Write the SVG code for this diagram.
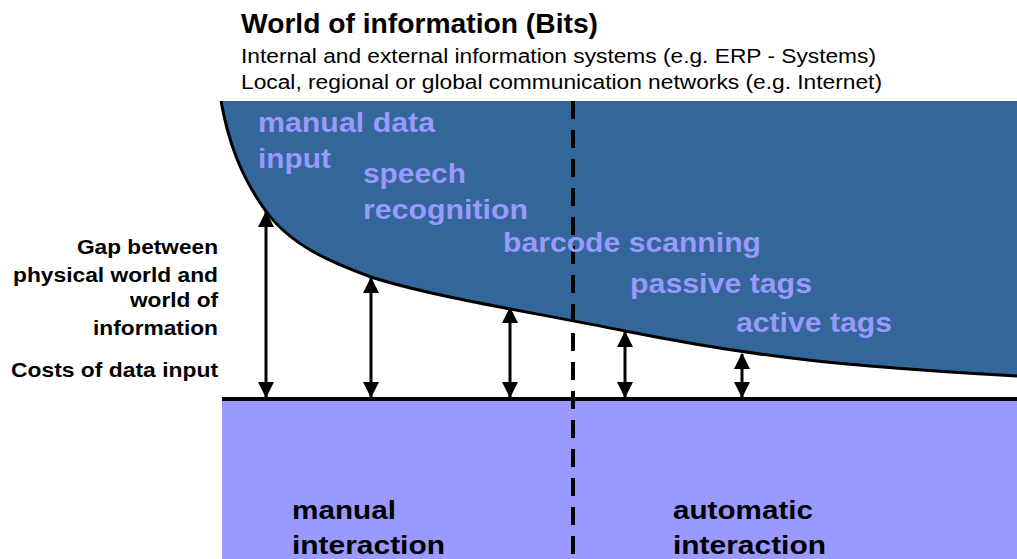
<svg xmlns="http://www.w3.org/2000/svg" width="1017" height="559" viewBox="0 0 1017 559">
<defs>
<style>
.t{font-family:"Liberation Sans",Arial,sans-serif;font-weight:bold}
.r{font-family:"Liberation Sans",Arial,sans-serif}
.lav{fill:#9999ff}
.blk{fill:#000}
.arr{stroke:#000;stroke-width:3;fill:none;marker-start:url(#ah);marker-end:url(#ah)}
</style>
<marker id="ah" viewBox="0 0 16 16" refX="15" refY="8" markerWidth="16" markerHeight="16" markerUnits="userSpaceOnUse" orient="auto-start-reverse">
<path d="M0,0 L16,8 L0,16 Z" fill="#000"/>
</marker>
</defs>
<rect width="1017" height="559" fill="#fff"/>
<g id="header">
<text class="t blk" x="241" y="33" font-size="28" textLength="357" lengthAdjust="spacingAndGlyphs">World of information (Bits)</text>
<text class="r blk" x="241" y="63" font-size="20" textLength="635" lengthAdjust="spacingAndGlyphs">Internal and external information systems (e.g. ERP - Systems)</text>
<text class="r blk" x="241" y="89" font-size="20" textLength="641" lengthAdjust="spacingAndGlyphs">Local, regional or global communication networks (e.g. Internet)</text>
</g>
<g id="information-world">
<path d="M221,101 C228,140 240,175 265,210 C290,245 330,262 371,277 C430,296 520,310 625,331 C700,346 790,360 870,366 C930,371 980,374 1017,376 L1017,101 Z" fill="#336699"/>
<path d="M221,101 C228,140 240,175 265,210 C290,245 330,262 371,277 C430,296 520,310 625,331 C700,346 790,360 870,366 C930,371 980,374 1017,376" fill="none" stroke="#000" stroke-width="3"/>
</g>
<g id="physical-world">
<rect x="222" y="399" width="795" height="160" fill="#9999ff"/>
<line x1="222" y1="399" x2="1017" y2="399" stroke="#000" stroke-width="4"/>
</g>
<g id="divider">
<line x1="573" y1="101" x2="573" y2="559" stroke="#000" stroke-width="4" stroke-dasharray="18 11"/>
</g>
<g id="methods">
<text class="t lav" x="258" y="132" font-size="27" textLength="177" lengthAdjust="spacingAndGlyphs">manual data</text>
<text class="t lav" x="258" y="168" font-size="27" textLength="73" lengthAdjust="spacingAndGlyphs">input</text>
<text class="t lav" x="363" y="183" font-size="27" textLength="103" lengthAdjust="spacingAndGlyphs">speech</text>
<text class="t lav" x="363" y="219" font-size="27" textLength="165" lengthAdjust="spacingAndGlyphs">recognition</text>
<text class="t lav" x="503" y="252" font-size="27" textLength="258" lengthAdjust="spacingAndGlyphs">barcode scanning</text>
<text class="t lav" x="630" y="293" font-size="27" textLength="182" lengthAdjust="spacingAndGlyphs">passive tags</text>
<text class="t lav" x="736" y="332" font-size="27" textLength="156" lengthAdjust="spacingAndGlyphs">active tags</text>
</g>
<g id="gap-label">
<text class="t blk" x="218" y="254" font-size="20" text-anchor="end" textLength="141" lengthAdjust="spacingAndGlyphs">Gap between</text>
<text class="t blk" x="218" y="282" font-size="20" text-anchor="end" textLength="205" lengthAdjust="spacingAndGlyphs">physical world and</text>
<text class="t blk" x="218" y="307" font-size="20" text-anchor="end" textLength="88" lengthAdjust="spacingAndGlyphs">world of</text>
<text class="t blk" x="218" y="335" font-size="20" text-anchor="end" textLength="125" lengthAdjust="spacingAndGlyphs">information</text>
</g>
<g id="cost-label">
<text class="t blk" x="218" y="377" font-size="20" text-anchor="end" textLength="207" lengthAdjust="spacingAndGlyphs">Costs of data input</text>
</g>
<g id="connectors">
<line class="arr" x1="266" y1="212" x2="266" y2="397"/>
<line class="arr" x1="371" y1="278" x2="371" y2="397"/>
<line class="arr" x1="510" y1="308" x2="510" y2="397"/>
<line class="arr" x1="625" y1="332" x2="625" y2="397"/>
<line class="arr" x1="742" y1="354" x2="742" y2="397"/>
</g>
<g id="manual-interaction">
<text class="t blk" x="292" y="519" font-size="26" textLength="104" lengthAdjust="spacingAndGlyphs">manual</text>
<text class="t blk" x="292" y="554" font-size="26" textLength="153" lengthAdjust="spacingAndGlyphs">interaction</text>
</g>
<g id="automatic-interaction">
<text class="t blk" x="673" y="519" font-size="26" textLength="140" lengthAdjust="spacingAndGlyphs">automatic</text>
<text class="t blk" x="673" y="554" font-size="26" textLength="153" lengthAdjust="spacingAndGlyphs">interaction</text>
</g>
</svg>
